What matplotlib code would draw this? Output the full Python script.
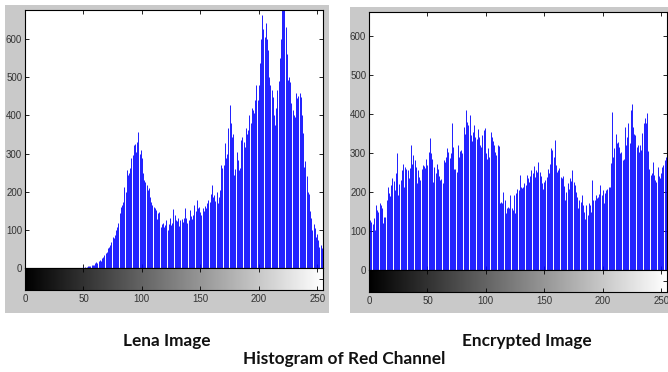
import matplotlib
matplotlib.use("Agg")
import matplotlib.pyplot as plt
import numpy as np
from matplotlib.patches import Rectangle

# red-channel histogram counts per gray level 0..255
LENA_COUNTS = (
    [0] * 50 +
    [2, 3, 1, 3, 4, 5, 4, 8, 7, 9,
     12, 16, 14, 18, 21, 19, 26, 30, 34, 40,
     43, 52, 56, 60, 69, 82, 78, 86, 100, 108,
     117, 143, 160, 165, 174, 213, 200, 256, 243, 250,
     261, 287, 296, 322, 326, 304, 330, 357, 300, 310,
     287, 248, 230, 225, 217, 204, 210, 187, 174, 165,
     160, 156, 152, 128, 143, 147, 108, 115, 117, 108,
     112, 126, 100, 115, 131, 113, 118, 154, 140, 126,
     122, 131, 110, 125, 128, 120, 130, 157, 131, 118,
     125, 152, 135, 128, 140, 165, 150, 178, 157, 160,
     148, 139, 157, 150, 162, 157, 170, 178, 172, 195,
     217, 186, 190, 175, 200, 170, 185, 205, 270, 262,
     270, 327, 288, 300, 366, 427, 380, 343, 350, 243,
     260, 304, 283, 256, 262, 335, 343, 330, 317, 366,
     350, 361, 400, 380, 418, 414, 405, 440, 479, 440,
     480, 536, 600, 662, 625, 605, 641, 600, 570, 500,
     480, 466, 448, 400, 374, 420, 466, 490, 550, 600,
     676, 690, 700, 631, 560, 492, 500, 487, 432, 414,
     400, 396, 458, 445, 450, 458, 448, 400, 353, 265,
     280, 240, 200, 193, 150, 130, 100, 115, 104, 82,
     88, 73, 55, 60, 52, 432]
)

ENC_COUNTS = [
    120, 128, 124, 118, 133, 103, 167, 154, 150, 171,
    168, 158, 120, 137, 135, 179, 213, 197, 190, 218,
    235, 228, 205, 248, 299, 192, 220, 231, 256, 272,
    213, 265, 260, 256, 235, 262, 320, 273, 295, 282,
    265, 222, 256, 238, 231, 260, 269, 266, 262, 286,
    270, 303, 338, 299, 285, 226, 265, 250, 273, 260,
    240, 231, 234, 222, 282, 278, 290, 312, 303, 287,
    300, 376, 316, 260, 258, 252, 321, 290, 305, 308,
    300, 367, 350, 410, 380, 372, 397, 346, 330, 355,
    372, 342, 335, 363, 342, 321, 316, 346, 359, 364,
    299, 286, 312, 290, 355, 342, 330, 321, 303, 295,
    321, 318, 171, 175, 171, 200, 180, 145, 158, 162,
    158, 192, 160, 154, 192, 145, 197, 209, 206, 243,
    214, 210, 214, 222, 218, 243, 235, 226, 240, 256,
    250, 267, 239, 256, 252, 278, 252, 240, 222, 209,
    226, 231, 239, 260, 248, 273, 312, 308, 290, 333,
    270, 252, 256, 262, 239, 235, 240, 216, 179, 200,
    222, 208, 235, 228, 256, 226, 218, 200, 188, 158,
    179, 175, 192, 167, 150, 132, 167, 141, 172, 167,
    148, 231, 179, 180, 192, 185, 188, 196, 218, 192,
    205, 171, 197, 205, 209, 214, 212, 274, 406, 291,
    312, 350, 325, 328, 316, 299, 303, 282, 286, 367,
    320, 342, 376, 325, 410, 427, 367, 350, 346, 316,
    321, 303, 320, 308, 351, 376, 389, 376, 402, 305,
    260, 243, 248, 278, 243, 231, 226, 265, 240, 235,
    248, 265, 270, 282, 290, 359,
]

X_TICKS = [0, 50, 100, 150, 200, 250]
Y_TICKS = [0, 100, 200, 300, 400, 500, 600]
PANEL_TITLES = ["Lena Image", "Encrypted Image"]
CAPTION = "Histogram of Red Channel"

W, H = 668, 372
FRAME_GRAY = "#c9c9c9"
TICK_FONT = dict(family="Liberation Sans", size=7, color="#333333")


def px_box(x0, y0, x1, y1):
    """Pixel box (origin top-left) -> figure fraction [left, bottom, w, h]."""
    return [x0 / W, 1 - y1 / H, (x1 - x0) / W, (y1 - y0) / H]


def draw_hist(fig, counts, hist_box, bar_box, ymax):
    ax = fig.add_axes(px_box(*hist_box), zorder=2)
    levels = np.arange(len(counts))
    ax.vlines(levels, 0, counts, color="#0000ff", linewidth=0.62)
    ax.set_xlim(0, 255)
    ax.set_ylim(0, ymax)
    ax.set_xticks(X_TICKS)
    ax.set_xticklabels([])
    ax.set_yticks(Y_TICKS)
    ax.set_yticklabels([str(t) for t in Y_TICKS], **TICK_FONT)
    ax.tick_params(direction="in", top=True, right=True, length=3,
                   width=0.6, pad=2)
    for s in ax.spines.values():
        s.set_linewidth(0.8)

    # gray-level ramp under the bars
    cax = fig.add_axes(px_box(*bar_box), zorder=2)
    cax.imshow(np.linspace(0, 1, 256)[None, :], cmap="gray", aspect="auto",
               extent=[0, 255, 0, 1], vmin=0, vmax=1)
    cax.set_xlim(0, 255)
    cax.set_ylim(0, 1)
    cax.set_xticks(X_TICKS)
    cax.set_xticklabels([str(t) for t in X_TICKS], **TICK_FONT)
    cax.set_yticks([0.5])
    cax.tick_params(axis="x", direction="in", top=True, length=3, width=0.6,
                    pad=3)
    cax.tick_params(axis="y", direction="in", left=False, right=True,
                    labelleft=False, length=3, width=0.6)
    for s in cax.spines.values():
        s.set_linewidth(0.8)
    return ax


fig = plt.figure(figsize=(W / 100, H / 100), dpi=100)
fig.patch.set_facecolor("white")

# gray window backgrounds behind each histogram
bg = fig.add_axes([0, 0, 1, 1], zorder=0)
bg.set_xlim(0, W)
bg.set_ylim(H, 0)
bg.axis("off")
for x0, y0, x1, y1 in [(5, 5, 329, 313), (350, 7, 668, 313)]:
    bg.add_patch(Rectangle((x0, y0), x1 - x0, y1 - y0,
                           facecolor=FRAME_GRAY, edgecolor="none"))

draw_hist(fig, LENA_COUNTS, (25, 10, 323, 268), (25, 268, 323, 290), 676)
draw_hist(fig, ENC_COUNTS, (369, 12, 667, 270), (369, 270, 667, 292), 662)

title_font = dict(family="Lato", weight="bold", size=12.4, color="#111111",
                  ha="center", va="center")
fig.text(167 / W, 1 - 341 / H, PANEL_TITLES[0], **title_font)
fig.text(527 / W, 1 - 341 / H, PANEL_TITLES[1], **title_font)
fig.text(344 / W, 1 - 359 / H, CAPTION, **title_font)

fig.savefig("out.png", dpi=100)
